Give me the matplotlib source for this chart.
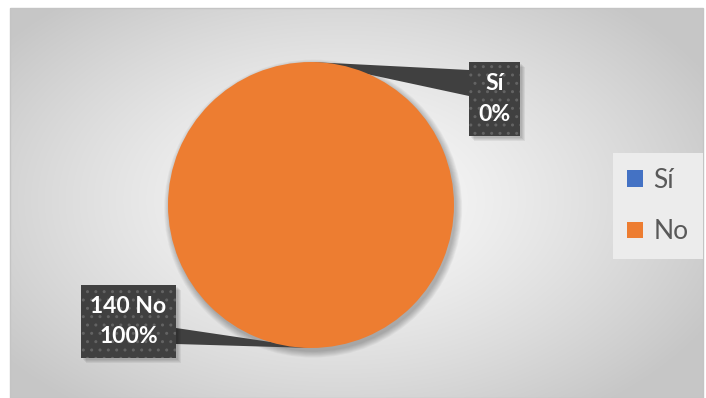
import numpy as np
import matplotlib
matplotlib.use("Agg")
import matplotlib.pyplot as plt
from matplotlib.patches import FancyBboxPatch, Polygon, Circle, Rectangle

plt.rcParams['font.family'] = ['Lato', 'DejaVu Sans']

# Survey answers
categories = ["Sí", "No"]
values = [0, 140]
colors = ["#4472C4", "#ED7D31"]

W, H, DPI = 706, 398, 100
fig = plt.figure(figsize=(W / DPI, H / DPI), dpi=DPI)
fig.patch.set_facecolor("white")

# ---- background panel with a soft radial gradient (pixel coordinates)
bg = fig.add_axes([0, 0, 1, 1], zorder=0)
bg.set_xlim(0, W)
bg.set_ylim(H, 0)
bg.axis("off")
x0, x1, y0, y1 = 10, 703, 8, 398
gx, gy = np.meshgrid(np.linspace(x0, x1, 400), np.linspace(y0, y1, 240))
cx, cy = 340, 200
r = np.sqrt(((gx - cx) / 420.0) ** 2 + ((gy - cy) / 260.0) ** 2)
r = np.clip(r, 0, 1)
center_v, edge_v = 0.985, 0.78
val = center_v - (center_v - edge_v) * r ** 1.3
img = np.dstack([val, val, val])
bg.imshow(img, extent=[x0, x1, y1, y0], aspect="auto", interpolation="bilinear")
bg.add_patch(Rectangle((x0, y0), x1 - x0, y1 - y0, fill=False,
                       edgecolor="#c4c4c4", linewidth=1.0))

# ---- pie axes: 1 data unit = 143 px, pie centre at pixel (311, 205)
R_PX, CX_PX, CY_PX = 143.0, 311.0, 205.0
ax = fig.add_axes([0, 0, 1, 1], zorder=2)
ax.patch.set_alpha(0)

def px(xp, yp):
    return (xp - CX_PX) / R_PX, (CY_PX - yp) / R_PX

# soft drop shadow under the pie
for k in range(8):
    ax.add_patch(Circle((0.015, -0.025), 1.0 + 0.006 * k, facecolor="black",
                        alpha=0.035, edgecolor="none", zorder=1))

wedges, _ = ax.pie(values, colors=colors, startangle=90, counterclock=False,
                   radius=1.0, wedgeprops=dict(linewidth=0, zorder=3))

ax.set_xlim(-CX_PX / R_PX, (W - CX_PX) / R_PX)
ax.set_ylim(-(H - CY_PX) / R_PX, CY_PX / R_PX)
ax.set_aspect("auto")
ax.axis("off")

total = float(sum(values))
labels = []
for c, v in zip(categories, values):
    pct = 100.0 * v / total
    head = f"{v} {c}" if v else c
    labels.append(f"{head}\n{pct:.0f}%")

# callout boxes (pixel rectangles: left, top, right, bottom) and the
# side of each box that the pointer attaches to
boxes_px = [(469, 62, 520, 136), (81, 285, 176, 358)]
pointer_px = [(469, 70, 96), (176, 328, 344)]

box_color = "#404040"
for w, lab, (l, t, rr, b), (bx, by1, by2) in zip(wedges, labels, boxes_px, pointer_px):
    ang = np.deg2rad((w.theta1 + w.theta2) / 2.0)
    apex = (np.cos(ang), np.sin(ang))
    p1 = px(bx, by1)
    p2 = px(bx, by2)
    ax.add_patch(Polygon([apex, p1, p2], closed=True, facecolor=box_color,
                         edgecolor="none", zorder=2))
    xl, yt = px(l, t)
    xr, yb = px(rr, b)
    # shadow
    for k in range(4):
        d = (2 + k) / R_PX
        ax.add_patch(Rectangle((xl + d, yb - d), xr - xl, yt - yb,
                               facecolor="black", alpha=0.06,
                               edgecolor="none", zorder=4))
    ax.add_patch(FancyBboxPatch((xl, yb), xr - xl, yt - yb,
                                boxstyle="square,pad=0",
                                facecolor=box_color, edgecolor="#636363",
                                hatch="..", linewidth=0, zorder=5))
    ax.text((xl + xr) / 2, (yt + yb) / 2, lab, ha="center", va="center",
            color="white", fontsize=16.5, fontweight="bold",
            linespacing=1.55, zorder=6)

# ---- legend
leg = ax.legend(wedges, categories, loc="center",
                bbox_to_anchor=(658 / W, 1 - 206 / H),
                bbox_transform=fig.transFigure,
                frameon=True, fancybox=False, fontsize=19,
                handlelength=0.6, handleheight=0.6, handletextpad=0.4,
                labelspacing=1.0, borderpad=0.55)
frame = leg.get_frame()
frame.set_facecolor("#ececec")
frame.set_edgecolor("none")
frame.set_alpha(1)
for t in leg.get_texts():
    t.set_color("#595959")

fig.savefig("out.png", dpi=DPI)
